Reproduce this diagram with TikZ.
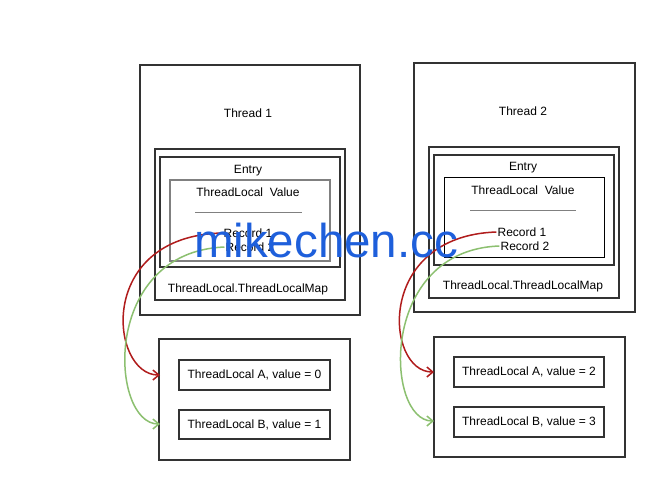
\documentclass[tikz,border=0pt]{standalone}
\usepackage{fontspec}
\setmainfont{Liberation Sans}
\usetikzlibrary{arrows.meta}
\definecolor{boxc}{HTML}{333333}
\definecolor{redc}{HTML}{B01C1C}
\definecolor{greenc}{HTML}{8CC070}
\definecolor{wmc}{HTML}{1E5FDB}
\begin{document}
\begin{tikzpicture}[x=1pt,y=-1pt,
  thick box/.style={draw=boxc,line width=2pt},
  mid box/.style={draw=boxc,line width=1.5pt},
  gray box/.style={draw=gray,line width=1.3pt},
  thin box/.style={draw=black,line width=1pt},
  lbl/.style={font=\fontsize{12}{14}\selectfont,inner sep=1pt},
  redarrow/.style={draw=redc,line width=1.5pt,-{Straight Barb[length=6pt,width=10pt]}},
  greenarrow/.style={draw=greenc,line width=1.5pt,-{Straight Barb[length=6pt,width=10pt]}}]
\useasboundingbox[fill=white] (0,0) rectangle (654,480);
% Thread 1
\draw[thick box] (140,65) rectangle (360,315);
\node[lbl] (t1) at (248,113) {Thread 1};
\draw[thick box] (155,149) rectangle (345,300);
\draw[mid box] (160,157) rectangle (340,267);
\node[lbl] (e1) at (248,171) {Entry};
\draw[gray box] (170,180) rectangle (330,261);
\node[lbl] (tv1) at (248,192) {ThreadLocal\ \ Value};
\draw[gray,line width=1pt] (195,212) -- (302,212);
\node[lbl] (r11) at (248,233) {Record 1};
\node[lbl] (r12) at (250,247) {Record 2};
\node[lbl] (m1) at (248,289) {ThreadLocal.ThreadLocalMap};
% Thread 2
\draw[thick box] (414,63) rectangle (635,312);
\node[lbl] (t2) at (523,111) {Thread 2};
\draw[thick box] (429,147) rectangle (619,298);
\draw[mid box] (434,155) rectangle (614,265);
\node[lbl] (e2) at (523,168) {Entry};
\draw[thin box] (444,177) rectangle (604,257);
\node[lbl] (tv2) at (523,190) {ThreadLocal\ \ Value};
\draw[gray,line width=1pt] (470,210) -- (576,210);
\node[lbl] (r21) at (522,232) {Record 1};
\node[lbl] (r22) at (525,246) {Record 2};
\node[lbl] (m2) at (523,286) {ThreadLocal.ThreadLocalMap};
% bottom left
\draw[thick box] (159,339) rectangle (350,460);
\node[thick box,lbl,minimum width=151pt,minimum height=30pt] (a1) at (254.5,375) {ThreadLocal A, value = 0};
\node[thick box,lbl,minimum width=151pt,minimum height=29pt] (b1) at (254.5,424.5) {ThreadLocal B, value = 1};
\coordinate (ta1) at (160,375);
\coordinate (tb1) at (160,424);
% bottom right
\draw[thick box] (434,337) rectangle (625,457);
\node[thick box,lbl,minimum width=150pt,minimum height=30pt] (a2) at (529,372) {ThreadLocal A, value = 2};
\node[thick box,lbl,minimum width=150pt,minimum height=30pt] (b2) at (529,422) {ThreadLocal B, value = 3};
\coordinate (ta2) at (434,372);
\coordinate (tb2) at (434,421);
% arrows
\draw[redarrow] (r11.west) .. controls (95,236) and (110,375) .. (ta1);
\draw[greenarrow] (r12.west) .. controls (100,252) and (110,424) .. (tb1);
\draw[redarrow] (r21.west) .. controls (375,236) and (385,372) .. (ta2);
\draw[greenarrow] (r22.west) .. controls (378,250) and (385,421) .. (tb2);
% watermark
\node[text=wmc,font=\fontsize{47.5}{48}\selectfont,inner sep=0pt] (wm) at (326,241) {mikechen.cc};
\end{tikzpicture}
\end{document}
